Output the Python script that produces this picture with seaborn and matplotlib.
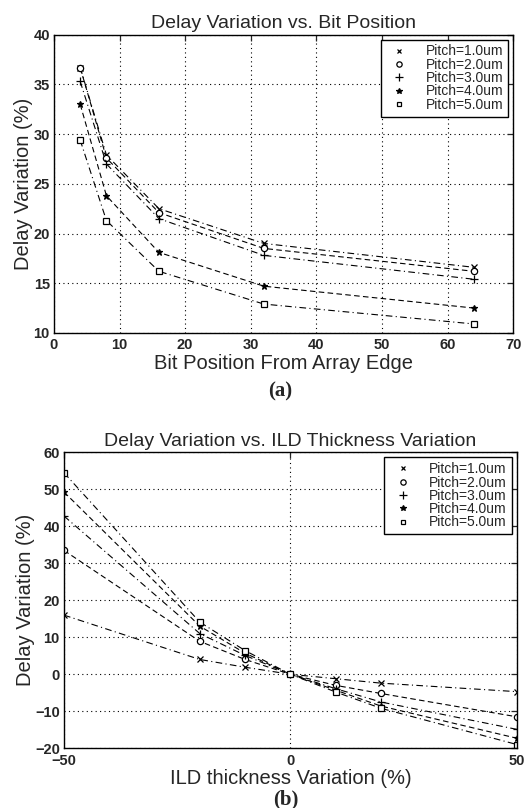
import matplotlib
matplotlib.use("Agg")
import matplotlib.pyplot as plt
from matplotlib.lines import Line2D
import seaborn as sns
import pandas as pd

sns.set_style("white")
plt.rcParams['font.family'] = ['Liberation Sans', 'DejaVu Sans']

# ---------------- data ----------------
labels = ["Pitch=1.0um", "Pitch=2.0um", "Pitch=3.0um", "Pitch=4.0um", "Pitch=5.0um"]

# (a) Delay variation vs. bit position
bit_pos = [4, 8, 16, 32, 64]
a_p1 = [36.7, 27.9, 22.5, 19.0, 16.6]
a_p2 = [36.7, 27.6, 22.1, 18.5, 16.2]
a_p3 = [35.3, 27.0, 21.5, 17.8, 15.4]
a_p4 = [33.0, 23.8, 18.1, 14.7, 12.5]
a_p5 = [29.4, 21.3, 16.2, 12.9, 10.9]

# (b) Delay variation vs. ILD thickness variation
ild = [-50, -20, -10, 0, 10, 20, 50]
b_p1 = [16.0, 4.0, 1.9, 0.0, -1.2, -2.4, -4.7]
b_p2 = [33.5, 8.9, 4.0, 0.0, -3.0, -5.2, -11.5]
b_p3 = [42.8, 11.0, 5.1, 0.0, -3.9, -7.5, -14.9]
b_p4 = [49.3, 13.0, 5.7, 0.0, -4.3, -8.6, -17.3]
b_p5 = [54.5, 14.1, 6.4, 0.0, -4.8, -9.2, -19.0]

a_series = [a_p1, a_p2, a_p3, a_p4, a_p5]
b_series = [b_p1, b_p2, b_p3, b_p4, b_p5]

markers = ["x", "o", "+", "*", "s"]
mfcs = ["black", "white", "black", "black", "white"]
msizes = [4, 4.5, 6, 5, 4]
lstyles = [(0, (6, 3, 1, 3)), (0, (5, 3)), (0, (6, 3, 1, 3)), (0, (5, 3)), (0, (6, 3, 1, 3))]

fig = plt.figure(figsize=(5.29, 8.08), dpi=100)
ax_a = fig.add_axes([0.102, 0.588, 0.868, 0.369])
ax_b = fig.add_axes([0.121, 0.074, 0.856, 0.366])


def draw(ax, xs, series):
    for ys, m, fc, ms, ls in zip(series, markers, mfcs, msizes, lstyles):
        df = pd.DataFrame({"x": xs, "y": ys})
        sns.lineplot(data=df, x="x", y="y", ax=ax, color="black",
                     linestyle=ls, linewidth=0.8, marker=m, markersize=ms,
                     markerfacecolor=fc, markeredgecolor="black",
                     markeredgewidth=0.9, legend=False)
    ax.grid(True, linestyle=(0, (1, 3)), color="black", linewidth=0.8)
    ax.tick_params(direction="in", top=True, right=True, length=4,
                   labelsize=10.5, width=0.9, pad=3)
    ax.tick_params(axis="x", pad=4)
    for sp in ax.spines.values():
        sp.set_color("black")
        sp.set_linewidth(1.0)
    handles = [Line2D([], [], linestyle="none", marker=m, markersize=ms * 0.85,
                      markerfacecolor=fc, markeredgecolor="black",
                      markeredgewidth=0.9, color="black")
               for m, fc, ms in zip(markers, mfcs, msizes)]
    leg = ax.legend(handles, labels, loc="upper right", fontsize=10,
                    frameon=True, fancybox=False, edgecolor="black",
                    framealpha=1, labelspacing=-0.05, handlelength=2.0,
                    handletextpad=0.9, borderpad=0.35, borderaxespad=0.35)
    leg.get_frame().set_linewidth(1.0)


def bold_ticks(ax):
    for lab in ax.get_xticklabels() + ax.get_yticklabels():
        lab.set_fontweight("bold")


draw(ax_a, bit_pos, a_series)
ax_a.set_xlim(0, 70)
ax_a.set_ylim(10, 40)
ax_a.set_xticks([0, 10, 20, 30, 40, 50, 60, 70])
ax_a.set_yticks([10, 15, 20, 25, 30, 35, 40])
bold_ticks(ax_a)
ax_a.set_title("Delay Variation vs. Bit Position", fontsize=14, pad=5)
ax_a.set_xlabel("Bit Position From Array Edge", fontsize=14.5, labelpad=1)
ax_a.set_ylabel("Delay Variation (%)", fontsize=14.5, labelpad=0)

draw(ax_b, ild, b_series)
ax_b.set_xlim(-50, 50)
ax_b.set_ylim(-20, 60)
ax_b.set_xticks([-50, 0, 50])
ax_b.set_yticks([-20, -10, 0, 10, 20, 30, 40, 50, 60])
bold_ticks(ax_b)
ax_b.set_title("Delay Variation vs. ILD Thickness Variation", fontsize=14, pad=5)
ax_b.set_xlabel("ILD thickness Variation (%)", fontsize=14.5, labelpad=1)
ax_b.set_ylabel("Delay Variation (%)", fontsize=14.5, labelpad=0)

fig.text(0.53, 0.515, "(a)", ha="center", va="center", fontsize=15,
         fontweight="bold", family="Liberation Serif")
fig.text(0.54, 0.011, "(b)", ha="center", va="center", fontsize=15,
         fontweight="bold", family="Liberation Serif")

fig.savefig("out.png", dpi=100)
